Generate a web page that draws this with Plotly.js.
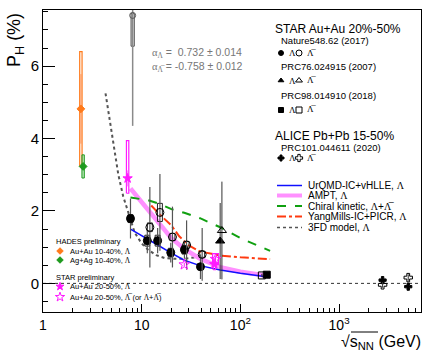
<!DOCTYPE html>
<html>
<head>
<meta charset="utf-8">
<script src="https://cdn.plot.ly/plotly-3.0.1.min.js"></script>
<style>
  body { margin: 0; background: #fff; }
  #chart { width: 436px; height: 355px; }
</style>
</head>
<body>
<div id="chart"></div>
<script>
// --- DATA ---
// STAR Nature548.62 (2017)
const natureLamX = [7.7, 11.4, 14.5, 19.7, 27.1, 39.4];
const natureLamY = [1.79, 1.18, 1.18, 0.85, 0.93, 0.46];
const natureLamStat = [0.55, 0.35, 0.35, 0.27, 0.25, 0.34];
const natureLamSys = [0.11, 0.15, 0.15, 0.12, 0.12, 0.08];

const natureBarX = [12.1, 15.3, 20.5, 28.5, 41];
const natureBarY = [1.55, 1.96, 1.28, 1.06, 0.80];
const natureBarStat = [1.11, 1.06, 0.84, 0.68, 0.73];
const natureBarSys = [0.12, 0.25, 0.10, 0.10, 0.08];

// the 7.7 GeV anti-Lambda point (drawn grey, near the top edge)
const greyBarX = [8.1];
const greyBarY = [7.4];
const greyBarStat = [3.05];
const greyBarSysLo = [0.85];
const greyBarSysHi = [0.05];

// STAR PRC76.024915 (2007)
const prc76LamX = [62.4], prc76LamY = [1.17], prc76LamStat = [1.05];
const prc76BarX = [65], prc76BarY = [1.46], prc76BarStat = [1.35];

// STAR PRC98.014910 (2018)
const prc98LamX = [185], prc98LamY = [0.24], prc98LamStat = [0.04];
const prc98BarX = [165], prc98BarY = [0.22], prc98BarStat = [0.045];

// ALICE PRC101.044611 (2020)
const aliceLamX = [2760, 5020], aliceLamY = [0.09, -0.09], aliceLamStat = [0.08, 0.08];
const aliceBarX = [2760, 5020], aliceBarY = [-0.04, 0.16], aliceBarStat = [0.08, 0.09];

// HADES preliminary
const hadesAuX = [2.42], hadesAuY = [4.82], hadesAuStat = [0.96], hadesAuSys = [1.58];
const hadesAgX = [2.55], hadesAgY = [3.23], hadesAgStat = [0.08], hadesAgSys = [0.32];

// STAR preliminary
const prelimLamX = [7.2, 54.4], prelimLamY = [2.9, 0.53], prelimLamStat = [0.22, 0.06];
const prelimLamSysLo = [0.41, 0.15], prelimLamSysHi = [1.04, 0.15];
const prelimBarX = [27, 56], prelimBarY = [0.52, 0.67], prelimBarStat = [0.05, 0.08];
const prelimBarSys = [0, 0.15];

// models
const urqmdX = [7.7, 11.6, 14.5, 19.6, 27, 39, 62.4, 100, 200];
const urqmdY = [1.50, 1.20, 1.06, 0.85, 0.64, 0.49, 0.37, 0.28, 0.17];
const amptX = [7.7, 10, 12, 15, 20, 27, 39, 62.4, 100, 200];
const amptY = [2.62, 2.25, 1.95, 1.65, 1.25, 0.95, 0.68, 0.45, 0.32, 0.20];
const chiralX = [7.7, 11.5, 15, 20, 27, 39, 62.4, 100, 200];
const chiralY = [2.37, 2.30, 2.20, 2.05, 1.95, 1.80, 1.55, 1.25, 0.90];
const ymX = [12.5, 15, 20, 24, 30, 39, 62.4, 100, 200];
const ymY = [2.15, 1.92, 1.60, 1.30, 1.05, 0.88, 0.77, 0.72, 0.67];
const fdX = [4.3, 5.1, 5.8, 6.5, 7.2, 8.5, 10, 11.6, 14, 17, 21.7, 27, 35, 40];
const fdY = [5.25, 4.0, 3.0, 2.4, 2.0, 1.4, 1.1, 0.93, 0.78, 0.70, 0.68, 0.68, 0.72, 0.75];

const xTickVals = [1, 10, 100, 1000];
const xTickText = ['1', '10', '10<sup>2</sup>', '10<sup>3</sup>'];
const yTickVals = [0, 2, 4, 6];

// --- GEOMETRY ---
const W = 436, H = 355;
const M = { l: 43, r: 15, t: 10, b: 43 };
const PW = W - M.l - M.r, PH = H - M.t - M.b;
const px = x => (x - M.l) / PW;       // pixel -> paper
const py = y => (H - M.b - y) / PH;

const FONT = 'Liberation Sans, Arial, sans-serif';
const SERIF = 'Liberation Serif, Times New Roman, serif';
const LAM = `<span style="font-family:${SERIF}">Λ</span>`;
const LBAR = `<span style="font-family:${SERIF}">Λ\u0305</span>`;

// open rectangles (systematic boxes) in data coords
function boxes(xs, ys, lo, hi, halfDec, color, width, fill) {
    const f = Math.pow(10, halfDec);
    const x = [], y = [];
    xs.forEach((xv, i) => {
        if (!lo[i] && !hi[i]) return;
        const y0 = ys[i] - lo[i], y1 = ys[i] + hi[i];
        x.push(xv / f, xv * f, xv * f, xv / f, xv / f, null);
        y.push(y0, y0, y1, y1, y0, null);
    });
    const t = { x, y, mode: 'lines', type: 'scatter', hoverinfo: 'skip',
        line: { color, width: width || 1 } };
    if (fill) { t.fill = 'toself'; t.fillcolor = fill; }
    return t;
}

function points(xs, ys, err, symbol, color, size, opts) {
    opts = opts || {};
    return {
        x: xs, y: ys, type: 'scatter', mode: 'markers',
        marker: { symbol, color, size, line: { color, width: opts.lw || 1 } },
        error_y: { type: 'data', array: err, arrayminus: opts.errMinus || err, visible: true,
            color: opts.errColor || '#333', thickness: opts.thick || 1, width: 0 },
        cliponaxis: true
    };
}

function model(xs, ys, color, width, dash) {
    return { x: xs, y: ys, type: 'scatter', mode: 'lines', line: { color, width, dash } };
}

const C = {
    blue: '#1010ff', pink: '#ff90ff', green: '#10a010', red: '#ff3a10', fd: '#555',
    orange: '#ff7a1a', hgreen: '#1e9a1e', mag: '#ff1aff', grey: '#8a8a8a'
};

const traces = [
    model(fdX, fdY, C.fd, 2, 'dot'),
    model(amptX, amptY, C.pink, 4.5),
    model(urqmdX, urqmdY, C.blue, 1.5),
    model(chiralX, chiralY, C.green, 2, 'dash'),
    model(ymX, ymY, C.red, 2, 'dashdot'),

    boxes(hadesAuX, hadesAuY, hadesAuSys, hadesAuSys, 0.012, C.orange, 1.2),
    points(hadesAuX, hadesAuY, hadesAuStat, 'diamond', C.orange, 6, { errColor: 'rgba(255,150,90,0.6)', thick: 2 }),
    boxes(hadesAgX, hadesAgY, hadesAgSys, hadesAgSys, 0.012, C.hgreen, 1, 'rgba(120,210,120,0.5)'),
    points(hadesAgX, hadesAgY, hadesAgStat, 'diamond', C.hgreen, 6),

    boxes(greyBarX, greyBarY, greyBarSysLo, greyBarSysHi, 0.016, '#444', 1),
    points(greyBarX, greyBarY, greyBarStat, 'circle-open', '#555', 6, { errColor: C.grey, thick: 1.5 }),

    boxes(natureLamX, natureLamY, natureLamSys, natureLamSys, 0.025, '#222', 1),
    boxes(natureBarX, natureBarY, natureBarSys, natureBarSys, 0.025, '#222', 1),
    points(natureLamX, natureLamY, natureLamStat, 'circle', 'black', 8, { errColor: '#555', thick: 1.2 }),
    points(natureBarX, natureBarY, natureBarStat, 'circle-open', 'black', 8, { errColor: '#555', thick: 1.2 }),

    points(prc76LamX, prc76LamY, prc76LamStat, 'triangle-up', 'black', 8),
    points(prc76BarX, prc76BarY, prc76BarStat, 'triangle-up-open', 'black', 8),
    points(prc98BarX, prc98BarY, prc98BarStat, 'square-open', 'black', 7),
    points(prc98LamX, prc98LamY, prc98LamStat, 'square', 'black', 7),

    points(aliceLamX, aliceLamY, aliceLamStat, 'cross', 'black', 6),
    points(aliceBarX, aliceBarY, aliceBarStat, 'cross-open', 'black', 7),

    boxes(prelimLamX, prelimLamY, prelimLamSysLo, prelimLamSysHi, 0.012, C.mag, 1.2),
    boxes(prelimBarX, prelimBarY, prelimBarSys, prelimBarSys, 0.03, C.mag, 1.2),
    points(prelimLamX, prelimLamY, prelimLamStat, 'star', C.mag, 7, { errColor: 'rgba(255,80,255,0.6)', thick: 2 }),
    points(prelimBarX, prelimBarY, prelimBarStat, 'star-open', C.mag, 8, { errColor: C.mag })
];

// --- LEGENDS (drawn on a hidden overlay axis in paper units) ---
const starRows = [
    [53, 'circle', 'circle-open'],
    [80.5, 'triangle-up', 'triangle-up-open'],
    [110, 'square', 'square-open'],
    [158, 'cross', 'cross-open']
];
const legX = [], legY = [], legSym = [], legCol = [], legSize = [];
function addLeg(x, y, s, c, sz) { legX.push(px(x)); legY.push(py(y)); legSym.push(s); legCol.push(c); legSize.push(sz); }
starRows.forEach(([y, s1, s2]) => {
    addLeg(281, y, s1, 'black', 5);
    addLeg(299, y, s2, 'black', 6);
});
addLeg(60, 251, 'diamond', C.orange, 5);
addLeg(60, 260, 'diamond', C.hgreen, 5);
addLeg(60, 286.5, 'star', C.mag, 6);
addLeg(60, 297, 'star-open', C.mag, 7);
traces.push({ x: legX, y: legY, xaxis: 'x2', yaxis: 'y2', type: 'scatter', mode: 'markers',
    marker: { symbol: legSym, color: legCol, size: legSize, opacity: 1, line: { color: legCol, width: 1 } },
    hoverinfo: 'skip' });

const modelRows = [
    [185.5, 'UrQMD-IC+vHLLE, ' + LAM, C.blue, 1.5, 'solid'],
    [195.5, 'AMPT, ' + LAM, C.pink, 4, 'solid'],
    [206, 'Chiral kinetic, ' + LAM + '+' + LBAR, C.green, 2, 'dash'],
    [216.5, 'YangMills-IC+PICR, ' + LAM, C.red, 2, 'dashdot'],
    [227.5, '3FD model, ' + LAM, C.fd, 1.5, 'dot']
];
modelRows.forEach(([y, , color, wd, dash]) => traces.push({
    x: [px(277), px(302)], y: [py(y), py(y)], xaxis: 'x2', yaxis: 'y2', type: 'scatter',
    mode: 'lines', line: { color, width: wd, dash }, hoverinfo: 'skip' }));

function txt(x, y, text, size, opts) {
    opts = opts || {};
    return { xref: 'paper', yref: 'paper', x: px(x), y: py(y), text, showarrow: false,
        xanchor: opts.xa || 'left', yanchor: 'middle', textangle: opts.angle || 0,
        font: { family: opts.family || FONT, size, color: opts.color || 'black' } };
}

const ALPHA = `<span style="font-family:${SERIF}">α</span>`;
const annotations = [
    txt(273, 28.5, 'STAR Au+Au 20%-50%', 12),
    txt(279, 41, 'Nature548.62 (2017)', 9.5),
    txt(279, 67, 'PRC76.024915 (2007)', 9.5),
    txt(279, 95, 'PRC98.014910 (2018)', 9.5),
    txt(273, 136, 'ALICE Pb+Pb 15-50%', 12),
    txt(279, 147, 'PRC101.044611 (2020)', 9.5),

    txt(150, 52.5, ALPHA + '<sub>' + LAM + '</sub> =  0.732 ± 0.014', 10.5, { color: '#777' }),
    txt(150, 67, ALPHA + '<sub>' + LBAR + '</sub> = -0.758 ± 0.012', 10.5, { color: '#777' }),

    txt(54, 241.5, 'HADES preliminary', 7.5),
    txt(68, 251, 'Au+Au 10-40%, ' + LAM, 7.5),
    txt(68, 260, 'Ag+Ag 10-40%, ' + LAM, 7.5),
    txt(54, 277.5, 'STAR preliminary', 7.5),
    txt(68, 286.5, 'Au+Au 20-50%, ' + LAM, 7.5),
    txt(68, 297, 'Au+Au 20-50%, ' + LBAR + ' (or ' + LAM + '+' + LBAR + ')', 7.5),

    txt(16, 40, 'P<sub>H</sub> (%)', 18, { angle: -90, xa: 'center' }),
    txt(423, 342.5, '√s<sub>NN</sub> (GeV)', 16, { xa: 'right' })
];
starRows.forEach(([y]) => {
    annotations.push(txt(286.5, y, 'Λ', 9, { family: SERIF }));
    annotations.push(txt(305, y - 0.5, 'Λ\u0305', 9, { family: SERIF }));
});
modelRows.forEach(([y, label]) => annotations.push(txt(306, y, label, 10)));

const minorX = [];
[1, 10, 100, 1000].forEach(d => { for (let k = 2; k <= 9; k++) if (d * k < 6800) minorX.push(d * k); });

const layout = {
    width: W, height: H, margin: M,
    paper_bgcolor: 'white', plot_bgcolor: 'white',
    showlegend: false,
    font: { family: FONT, color: 'black' },
    xaxis: {
        type: 'log', range: [0, 3.83],
        tickmode: 'array', tickvals: xTickVals, ticktext: xTickText,
        ticks: 'inside', ticklen: 8, tickcolor: 'black', tickwidth: 1,
        showline: true, linecolor: 'black', linewidth: 1, mirror: true,
        showgrid: false, zeroline: false,
        tickfont: { family: FONT, size: 14 },
        minor: { tickmode: 'array', tickvals: minorX, ticks: 'inside', ticklen: 4, tickcolor: 'black', showgrid: false }
    },
    yaxis: {
        range: [-0.79, 7.55],
        tickmode: 'array', tickvals: yTickVals,
        ticks: 'inside', ticklen: 12, tickcolor: 'black', tickwidth: 1,
        showline: true, linecolor: 'black', linewidth: 1, mirror: true,
        showgrid: false, zeroline: false,
        tickfont: { family: FONT, size: 15 },
        minor: { dtick: 0.5, ticks: 'inside', ticklen: 5, tickcolor: 'black', showgrid: false }
    },
    xaxis2: { overlaying: 'x', range: [0, 1], visible: false, fixedrange: true },
    yaxis2: { overlaying: 'y', range: [0, 1], visible: false, fixedrange: true },
    shapes: [
        { type: 'line', xref: 'paper', yref: 'y', x0: 0, x1: 1, y0: 0, y1: 0,
          line: { color: '#333', width: 1, dash: '3px,3px' }, layer: 'below' },
        // overline of the square root in the x title
        { type: 'line', xref: 'paper', yref: 'paper', x0: px(351), x1: px(378), y0: py(332), y1: py(332),
          line: { color: 'black', width: 1 } }
    ],
    annotations
};

Plotly.newPlot('chart', traces, layout, { displayModeBar: false, staticPlot: true });
</script>
</body>
</html>
